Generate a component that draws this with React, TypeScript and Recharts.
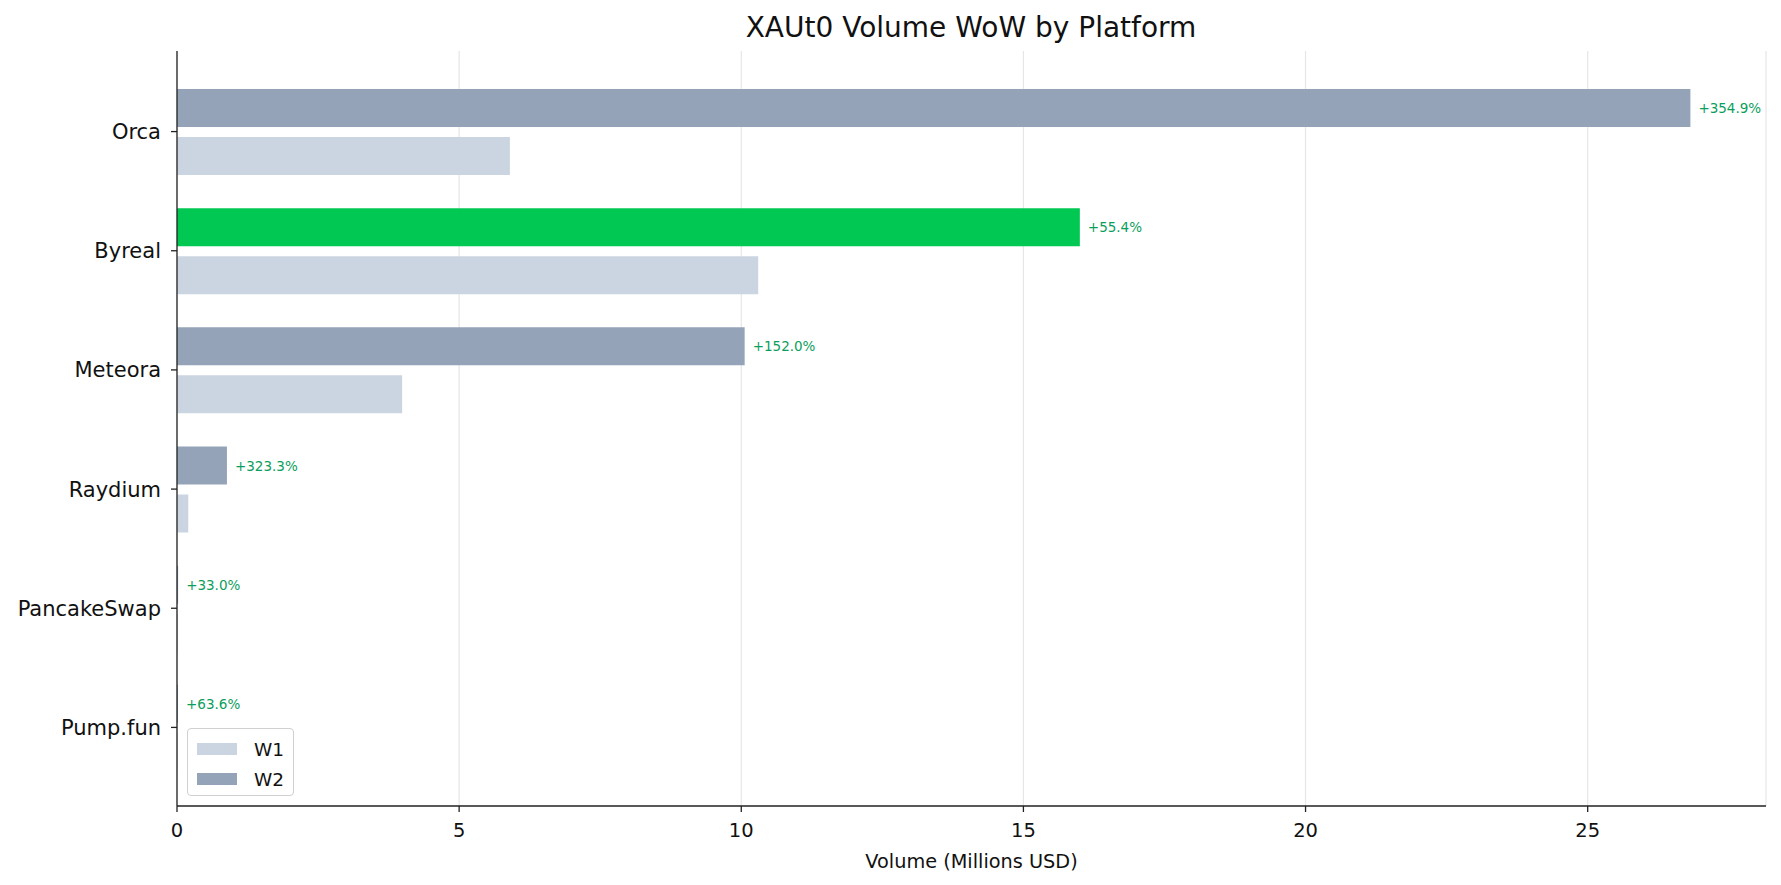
import { BarChart, Bar, XAxis, YAxis, CartesianGrid, Cell, LabelList, Legend } from 'recharts';

const platforms = ['Orca', 'Byreal', 'Meteora', 'Raydium', 'PancakeSwap', 'Pump.fun'];
const week1 = [5.9, 10.3, 3.99, 0.2, 0.015, 0.011];
const week2 = [26.82, 16.0, 10.06, 0.885, 0.02, 0.018];
const changeLabels = ['+354.9%', '+55.4%', '+152.0%', '+323.3%', '+33.0%', '+63.6%'];
const xTicks = [0, 5, 10, 15, 20, 25];
const highlight = 'Byreal';

const W1_COLOR = '#CBD5E1';
const W2_COLOR = '#94A3B8';
const GREEN = '#00C853';
const LABEL_GREEN = '#0A9E5C';
const FONT = '"DejaVu Sans", sans-serif';

const data = platforms.map((p, i) => ({ platform: p, w1: week1[i], w2: week2[i] }));

function ChangeLabel(props: any) {
  const { x, y, width, height, index } = props;
  return (
    <text
      x={Number(x) + Number(width) + 8}
      y={Number(y) + Number(height) / 2}
      dominantBaseline="central"
      fill={LABEL_GREEN}
      fontSize={13.5}
      fontFamily={FONT}
    >
      {changeLabels[index]}
    </text>
  );
}

function LegendBox() {
  const items = [
    { label: 'W1', color: W1_COLOR },
    { label: 'W2', color: W2_COLOR },
  ];
  return (
    <div
      style={{
        width: 107,
        height: 68,
        border: '1px solid #D0D0D0',
        borderRadius: 4,
        background: 'rgba(255,255,255,0.85)',
        fontFamily: FONT,
        fontSize: 18.5,
        color: '#111',
        boxSizing: 'border-box',
        paddingTop: 5,
      }}
    >
      {items.map((it) => (
        <div key={it.label} style={{ display: 'flex', alignItems: 'center', height: 30, paddingLeft: 9 }}>
          <span style={{ display: 'inline-block', width: 40, height: 12, background: it.color }} />
          <span style={{ marginLeft: 17 }}>{it.label}</span>
        </div>
      ))}
    </div>
  );
}

export default function App() {
  return (
    <div style={{ position: 'absolute', left: 0, top: 0, width: 1781, height: 885, background: '#fff' }}>
      <BarChart
        width={1781}
        height={885}
        data={data}
        layout="vertical"
        margin={{ top: 51, right: 15, bottom: 0, left: 0 }}
        barSize={38}
        barGap={10}
      >
        <text x={971} y={37} textAnchor="middle" fontSize={28} fontFamily={FONT} fill="#111">
          XAUt0 Volume WoW by Platform
        </text>
        <CartesianGrid horizontal={false} stroke="#E6E6E6" strokeWidth={1.2} />
        <XAxis
          type="number"
          domain={[0, 28.16]}
          ticks={xTicks}
          height={79}
          tickSize={6}
          tickMargin={11}
          stroke="#222"
          strokeWidth={1.3}
          tick={{ fill: '#111', fontSize: 19.5, fontFamily: FONT }}
          label={{ value: 'Volume (Millions USD)', position: 'insideBottom', offset: 17, fill: '#111', fontSize: 19.3, fontFamily: FONT }}
        />
        <YAxis
          type="category"
          dataKey="platform"
          width={177}
          padding={{ top: 21, bottom: 19 }}
          tickSize={6}
          tickMargin={10}
          stroke="#222"
          strokeWidth={1.3}
          tick={{ fill: '#111', fontSize: 21, fontFamily: FONT }}
        />
        <Legend
          layout="horizontal"
          verticalAlign="middle"
          align="center"
          wrapperStyle={{ position: 'absolute', left: 187, top: 728, width: 107, height: 68 }}
          content={() => <LegendBox />}
        />
        <Bar dataKey="w2" name="W2" fill={W2_COLOR} isAnimationActive={false}>
          {data.map((d) => (
            <Cell key={d.platform} fill={d.platform === highlight ? GREEN : W2_COLOR} />
          ))}
          <LabelList dataKey="w2" content={ChangeLabel} />
        </Bar>
        <Bar dataKey="w1" name="W1" fill={W1_COLOR} isAnimationActive={false} />
      </BarChart>
    </div>
  );
}
